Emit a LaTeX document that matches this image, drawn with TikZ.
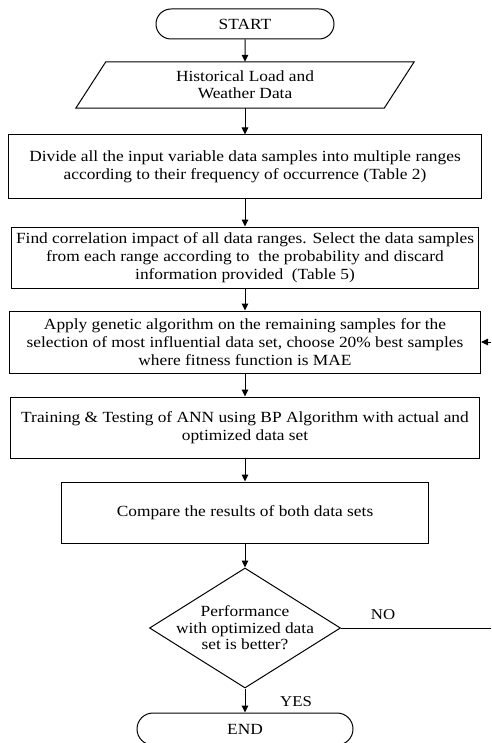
\documentclass[tikz,border=0pt]{standalone}
\usepackage{fontspec}
\setmainfont{Liberation Serif}[FakeStretch=1.12]
\usetikzlibrary{arrows.meta,shapes.geometric,shapes.misc}
\begin{document}
\begin{tikzpicture}[x=1pt,y=-1pt,
  every node/.style={font=\fontsize{15.5}{18}\selectfont, align=center, inner sep=0pt},
  boxst/.style={draw, line width=1pt},
  term/.style={draw, line width=1pt, rounded rectangle},
  arr/.style={-{Triangle[length=7pt,width=6.5pt]}, line width=1pt},
  lbl/.style={font=\fontsize{15}{18}\selectfont}]
\useasboundingbox (0,0) rectangle (491,743);
\node[term, minimum width=178pt, minimum height=30pt] (start) at (245,24) {START};
\node[minimum width=308pt, minimum height=46pt, font=\fontsize{15.5}{17}\selectfont] (data) at (245,85) {Historical Load and\\Weather Data};
\draw[line width=1pt] ([xshift=-15pt]data.south west) -- ([xshift=-15pt]data.south east)
  -- ([xshift=15pt]data.north east) -- ([xshift=15pt]data.north west) -- cycle;
\node[boxst, minimum width=473pt, minimum height=64pt] (b2) at (245,167)
  {Divide all the input variable data samples into multiple ranges\\according to their frequency of occurrence (Table 2)};
\node[boxst, minimum width=467pt, minimum height=61pt] (b3) at (245,257.5)
  {Find correlation impact of all data ranges. Select the data samples\\from each range according to \ the probability and discard\\information provided \ (Table 5)};
\node[boxst, minimum width=471pt, minimum height=62pt] (b4) at (245,342)
  {Apply genetic algorithm on the remaining samples for the\\selection of most influential data set, choose 20\% best samples\\where fitness function is MAE};
\node[boxst, minimum width=469pt, minimum height=61pt] (b5) at (245,427.5)
  {Training \& Testing of ANN using BP Algorithm with actual and\\optimized data set};
\node[boxst, minimum width=367pt, minimum height=61pt] (b6) at (245,512.5)
  {Compare the results of both data sets};
\node[draw, line width=1pt, diamond, aspect=1.59, minimum width=191pt, minimum height=120pt] (dec) at (245,628) {};
\node[font=\fontsize{15.5}{16.5}\selectfont] (dectext) at (245,628) {Performance\\with optimized data\\set is better?};
\node[term, minimum width=216pt, minimum height=32pt] (end) at (245,729) {END};
\coordinate (noR) at (491,628);
\coordinate (fbR) at (491,342);
\draw[arr] (start) -- (data);
\draw[arr] (data) -- (b2);
\draw[arr] (b2) -- (b3);
\draw[arr] (b3) -- (b4);
\draw[arr] (b4) -- (b5);
\draw[arr] (b5) -- (b6);
\draw[arr] (b6) -- (dec);
\draw[arr] (dec) -- (end);
\draw[line width=1pt] (dec.east) -- (noR);
\draw[arr] (fbR) -- (b4.east);
\node[lbl] (no) at (383,615) {NO};
\node[lbl] (yes) at (296,702) {YES};
\end{tikzpicture}
\end{document}
